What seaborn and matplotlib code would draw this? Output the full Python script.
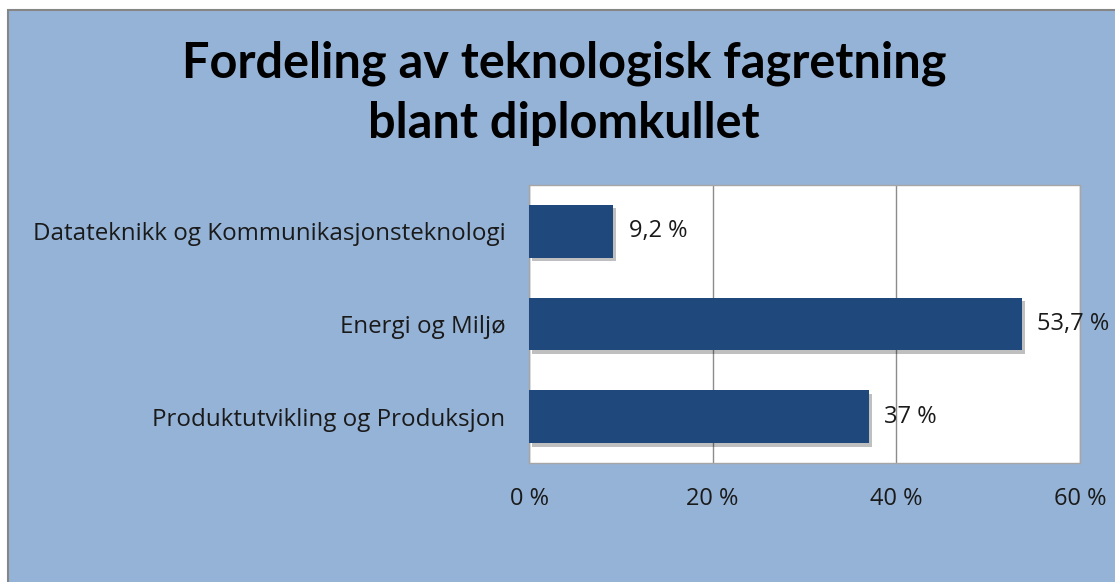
import matplotlib
matplotlib.use('Agg')
import matplotlib.pyplot as plt
import matplotlib.patheffects as pe
from matplotlib.patches import Rectangle
import seaborn as sns

# Data
categories = ['Datateknikk og Kommunikasjonsteknologi', 'Energi og Miljø', 'Produktutvikling og Produksjon']
shares = [9.2, 53.7, 37]
value_labels = ['9,2 %', '53,7 %', '37 %']
tick_values = [0, 20, 40, 60]
tick_labels = ['0 %', '20 %', '40 %', '60 %']
title_lines = ['Fordeling av teknologisk fagretning', 'blant diplomkullet']

bg_color = '#95B3D7'
bar_color = '#1F497D'
text_color = '#1A1A1A'

sns.set_style('white')
plt.rcParams['font.family'] = ['Open Sans', 'DejaVu Sans']

fig = plt.figure(figsize = (11.15, 5.82), dpi = 100)
fig.patch.set_facecolor('white')

# Blue chart area with a gray frame
fig.patches.append(Rectangle((8 / 1115, -0.1), 1.1, (582 - 10) / 582 + 0.1, transform = fig.transFigure,
                             facecolor = bg_color, edgecolor = '#868686', linewidth = 1.5, zorder = -5))

ax = fig.add_axes([529 / 1115, 119 / 582, 551 / 1115, 278 / 582])
ax.set_facecolor('white')

# Plot the bars
sns.barplot(x = shares, y = categories, orient = 'h', color = bar_color, width = 0.57,
            saturation = 1, edgecolor = 'none', linewidth = 0, ax = ax, zorder = 3)
for bar in ax.patches:
    bar.set_path_effects([pe.SimplePatchShadow(offset = (2, -2.5), shadow_rgbFace = 'black', alpha = 0.25),
                          pe.Normal()])

for i, (v, lab) in enumerate(zip(shares, value_labels)):
    ax.annotate(lab, (v, i), xytext = (11, 0), textcoords = 'offset points',
                va = 'center', ha = 'left', fontsize = 17, color = text_color)

ax.set_xlim(0, 60)
ax.set_ylim(2.5, -0.5)
ax.set_xticks(tick_values)
ax.set_xticklabels(tick_labels)
ax.xaxis.grid(True, color = '#8C8C8C', linewidth = 1)
ax.set_axisbelow(True)
ax.tick_params(axis = 'x', length = 0, pad = 17, labelsize = 17, labelcolor = text_color)
ax.tick_params(axis = 'y', length = 0, pad = 17, labelsize = 17.4, labelcolor = text_color)
ax.set_xlabel('')
ax.set_ylabel('')
for s in ax.spines.values():
    s.set_visible(True)
    s.set_color('#A6A6A6')
    s.set_linewidth(1)

# Title, two centred lines
for line, base in zip(title_lines, [78, 138]):
    fig.text(564 / 1115, 1 - base / 582, line, ha = 'center', va = 'baseline',
             fontsize = 35, fontweight = 'bold', color = 'black', family = ['Lato', 'DejaVu Sans'])

plt.savefig('out.png', dpi = 100, facecolor = fig.get_facecolor())
